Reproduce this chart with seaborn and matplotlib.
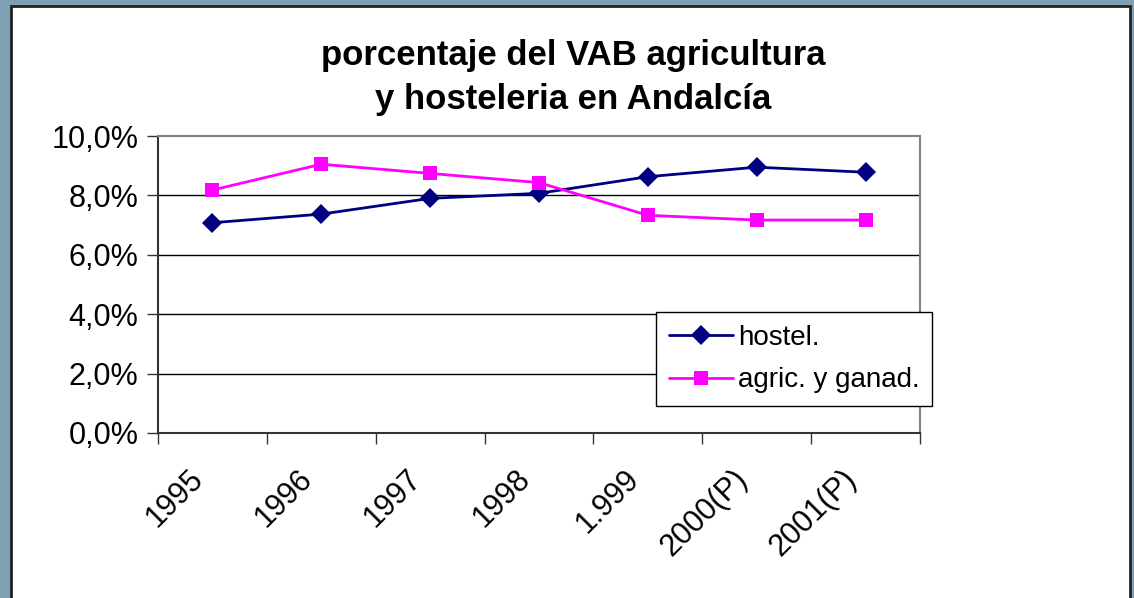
import numpy as np
import pandas as pd
import seaborn as sns
import matplotlib.pyplot as plt
from matplotlib.patches import Rectangle
from matplotlib.ticker import FuncFormatter, FixedLocator
from matplotlib.transforms import ScaledTranslation

# --- DATA ---
years = ['1995', '1996', '1997', '1998', '1.999', '2000(P)', '2001(P)']
hostel = [0.0708, 0.0737, 0.0790, 0.0807, 0.0863, 0.0895, 0.0878]
agric = [0.0818, 0.0905, 0.0874, 0.0843, 0.0733, 0.0717, 0.0717]
series_names = ['hostel.', 'agric. y ganad.']

df = pd.DataFrame({
    'year': years * 2,
    'value': hostel + agric,
    'serie': [series_names[0]] * len(years) + [series_names[1]] * len(years),
})

sns.set_style('white')
plt.rcParams['font.family'] = ['Liberation Sans', 'DejaVu Sans']
plt.rcParams['text.color'] = 'black'
plt.rcParams['xtick.color'] = 'black'
plt.rcParams['ytick.color'] = 'black'

fig = plt.figure(figsize=(11.34, 5.98), dpi=100)
fig.patch.set_facecolor('#7F9FB2')
# white chart area with dark border, kept behind the axes
fig.patches.append(Rectangle((11 / 1134, -0.01), 1119 / 1134, 1 - 6 / 598 + 0.01,
                             transform=fig.transFigure, facecolor='white',
                             edgecolor='#222222', linewidth=2, zorder=-5))

ax = fig.add_axes([158 / 1134, 1 - 433 / 598, 762 / 1134, 297 / 598])
ax.set_facecolor('white')

sns.lineplot(data=df, x='year', y='value', hue='serie', style='serie',
             palette={'hostel.': '#000080', 'agric. y ganad.': '#FF00FF'},
             markers={'hostel.': 'D', 'agric. y ganad.': 's'},
             dashes=False, markersize=10, linewidth=2, markeredgewidth=0,
             sort=False, ax=ax)

ax.set_xlim(-0.5, len(years) - 0.5)
ax.set_ylim(0, 0.10)
ax.set_xlabel('')
ax.set_ylabel('')

# gridlines
ax.yaxis.set_major_locator(FixedLocator([0, 0.02, 0.04, 0.06, 0.08, 0.10]))
for v in [0.02, 0.04, 0.06, 0.08]:
    ax.axhline(v, color='black', linewidth=1, zorder=0)
ax.yaxis.set_major_formatter(FuncFormatter(lambda v, p: f'{v * 100:.1f}%'.replace('.', ',')))
ax.tick_params(axis='y', which='major', length=8, width=1, color='#333333',
               labelsize=22, pad=6, left=True)

ax.set_xticks(range(len(years)))
ax.set_xticklabels(years, rotation=45, ha='right', rotation_mode='anchor')
ax.set_xticks(np.arange(-0.5, len(years)), minor=True)
ax.tick_params(axis='x', which='major', length=0, labelsize=22, pad=22)
ax.tick_params(axis='x', which='minor', length=8, width=1, color='#333333', bottom=True)
shift = ScaledTranslation(-24 / 100, 0, fig.dpi_scale_trans)
for lbl in ax.get_xticklabels():
    lbl.set_transform(lbl.get_transform() + shift)

for side in ['top', 'right']:
    ax.spines[side].set_color('#808080')
    ax.spines[side].set_linewidth(1.5)
for side in ['left', 'bottom']:
    ax.spines[side].set_color('#333333')
    ax.spines[side].set_linewidth(1.5)

fig.text(573 / 1134, 1 - 56 / 598, 'porcentaje del VAB agricultura',
         ha='center', va='center', fontsize=25, fontweight='bold')
fig.text(573 / 1134, 1 - 99 / 598, 'y hosteleria en Andalcía',
         ha='center', va='center', fontsize=25, fontweight='bold')

leg = ax.legend(loc='upper left', bbox_to_anchor=(0.654, 0.407), frameon=True,
                fancybox=False, shadow=False, fontsize=20, handlelength=2.3,
                borderpad=0.45, labelspacing=0.6, handletextpad=0.2,
                borderaxespad=0)
leg.get_frame().set_edgecolor('black')
leg.get_frame().set_linewidth(1)
leg.get_frame().set_alpha(1)

fig.savefig('out.png', dpi=100, facecolor=fig.get_facecolor())
